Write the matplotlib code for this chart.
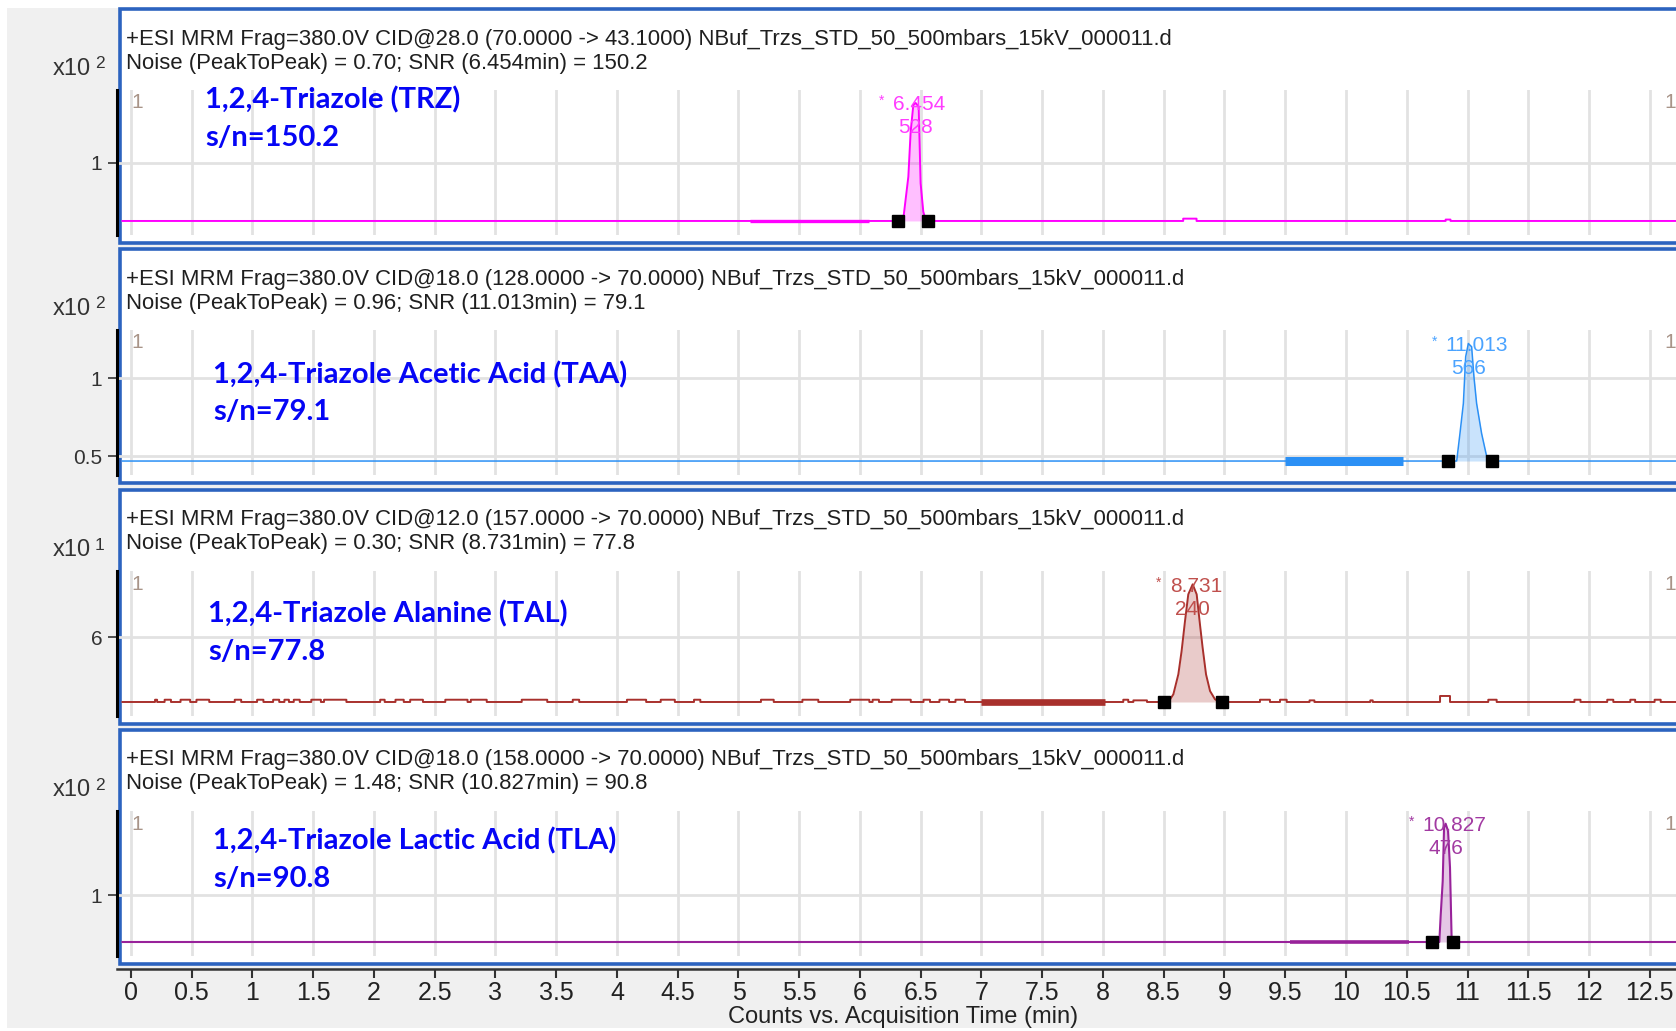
import numpy as np
import matplotlib.pyplot as plt
from matplotlib.patches import Rectangle

W, H = 1676, 1031

# ---- данные ----
x_ticks = [0, 0.5, 1, 1.5, 2, 2.5, 3, 3.5, 4, 4.5, 5, 5.5, 6, 6.5,
           7, 7.5, 8, 8.5, 9, 9.5, 10, 10.5, 11, 11.5, 12, 12.5]
x_ticklabels = ["0", "0.5", "1", "1.5", "2", "2.5", "3", "3.5", "4", "4.5", "5",
                "5.5", "6", "6.5", "7", "7.5", "8", "8.5", "9", "9.5", "10",
                "10.5", "11", "11.5", "12", "12.5"]

headers = [
    "+ESI MRM Frag=380.0V CID@28.0 (70.0000 -> 43.1000) NBuf_Trzs_STD_50_500mbars_15kV_000011.d",
    "+ESI MRM Frag=380.0V CID@18.0 (128.0000 -> 70.0000) NBuf_Trzs_STD_50_500mbars_15kV_000011.d",
    "+ESI MRM Frag=380.0V CID@12.0 (157.0000 -> 70.0000) NBuf_Trzs_STD_50_500mbars_15kV_000011.d",
    "+ESI MRM Frag=380.0V CID@18.0 (158.0000 -> 70.0000) NBuf_Trzs_STD_50_500mbars_15kV_000011.d",
]
noise_lines = [
    "Noise (PeakToPeak) = 0.70; SNR (6.454min) = 150.2",
    "Noise (PeakToPeak) = 0.96; SNR (11.013min) = 79.1",
    "Noise (PeakToPeak) = 0.30; SNR (8.731min) = 77.8",
    "Noise (PeakToPeak) = 1.48; SNR (10.827min) = 90.8",
]
names = ["1,2,4-Triazole (TRZ)", "1,2,4-Triazole Acetic Acid (TAA)",
         "1,2,4-Triazole Alanine (TAL)", "1,2,4-Triazole Lactic Acid (TLA)"]
sn_labels = ["s/n=150.2", "s/n=79.1", "s/n=77.8", "s/n=90.8"]
rt_labels = ["6.454", "11.013", "8.731", "10.827"]
area_labels = ["528", "566", "240", "476"]
exponents = ["2", "2", "1", "2"]

# TRZ
trz_base = 0.5
trz_peak_t = [6.355, 6.362, 6.398, 6.417, 6.439, 6.458, 6.483, 6.499, 6.521, 6.543]
trz_peak_v = [0.5, 0.566, 0.882, 1.27, 1.50, 1.517, 1.486, 0.825, 0.58, 0.5]
trz_limits = [6.310, 6.557]
trz_noise = [5.095, 6.077]
trz_bumps = [(8.66, 8.77, 0.02), (10.82, 10.86, 0.012)]
trz_yticks, trz_yticklabels = [1], ["1"]
trz_ylim = (0.379, 1.629)

# TAA
taa_base = 0.471
taa_peak_t = [10.911, 10.938, 10.966, 10.985, 11.007, 11.034, 11.053, 11.075, 11.116, 11.158, 11.18]
taa_peak_v = [0.471, 0.647, 0.838, 1.136, 1.220, 1.199, 1.008, 0.838, 0.647, 0.499, 0.471]
taa_limits = [10.837, 11.199]
taa_noise = [9.498, 10.47]
taa_bumps = []
taa_yticks, taa_yticklabels = [0.5, 1], ["0.5", "1"]
taa_ylim = (0.382, 1.306)

# TAL
tal_base = 4.0
tal_peak_t = [8.538, 8.579, 8.620, 8.647, 8.675, 8.702, 8.738, 8.771, 8.798, 8.820, 8.848, 8.881, 8.922, 8.963]
tal_peak_v = [4.0, 4.236, 4.851, 5.569, 6.492, 7.313, 7.621, 7.313, 6.390, 5.672, 4.851, 4.338, 4.082, 4.0]
tal_limits = [8.502, 8.977]
tal_noise = [7.0, 8.02]
tal_bumps = [(0.198, 0.215, 0.07), (0.277, 0.329, 0.07), (0.408, 0.487, 0.07), (0.539, 0.644, 0.07),
             (0.854, 0.907, 0.07), (1.038, 1.09, 0.07), (1.17, 1.22, 0.07), (1.263, 1.30, 0.07),
             (1.34, 1.389, 0.07), (1.484, 1.563, 0.07), (1.589, 1.773, 0.07), (2.051, 2.088, 0.07),
             (2.177, 2.245, 0.07), (2.298, 2.403, 0.07), (2.587, 2.77, 0.07), (2.797, 2.928, 0.07),
             (3.216, 3.426, 0.07), (3.636, 3.689, 0.07), (4.082, 4.24, 0.07), (4.36, 4.476, 0.07),
             (4.634, 4.686, 0.07), (5.185, 5.29, 0.07), (5.526, 5.657, 0.07), (5.92, 6.077, 0.07),
             (6.104, 6.156, 0.07), (6.261, 6.418, 0.07), (6.523, 6.576, 0.07), (6.654, 6.733, 0.07),
             (6.786, 6.864, 0.07), (8.167, 8.208, 0.07), (8.25, 8.362, 0.05), (9.292, 9.374, 0.07),
             (9.457, 9.512, 0.07), (9.70, 9.74, 0.05), (10.20, 10.22, 0.05), (10.774, 10.856, 0.185),
             (11.171, 11.24, 0.07), (11.88, 11.93, 0.07), (12.15, 12.2, 0.07), (12.34, 12.38, 0.07),
             (12.54, 12.59, 0.07)]
tal_yticks, tal_yticklabels = [6], ["6"]
tal_ylim = (3.569, 8.031)

# TLA
tla_base = 0.5
tla_peak_t = [10.768, 10.779, 10.796, 10.807, 10.820, 10.840, 10.856, 10.870]
tla_peak_v = [0.5, 0.777, 1.149, 1.716, 1.759, 1.681, 1.291, 0.5]
tla_limits = [10.705, 10.883]
tla_noise = [9.54, 10.52]
tla_bumps = []
tla_yticks, tla_yticklabels = [1], ["1"]
tla_ylim = (0.351, 1.894)

panels = [
    (trz_base, trz_peak_t, trz_peak_v, trz_limits, trz_noise, trz_bumps, trz_yticks, trz_yticklabels, trz_ylim),
    (taa_base, taa_peak_t, taa_peak_v, taa_limits, taa_noise, taa_bumps, taa_yticks, taa_yticklabels, taa_ylim),
    (tal_base, tal_peak_t, tal_peak_v, tal_limits, tal_noise, tal_bumps, tal_yticks, tal_yticklabels, tal_ylim),
    (tla_base, tla_peak_t, tla_peak_v, tla_limits, tla_noise, tla_bumps, tla_yticks, tla_yticklabels, tla_ylim),
]

# ---- стиль ----
line_colors = ["#ff00ff", "#2b90f5", "#a8302c", "#98229a"]
label_colors = ["#ff3cff", "#4aa3ff", "#c0504d", "#a23aa2"]
trace_lw = [1.4, 1.1, 1.4, 1.5]
noise_lw = [2.4, 6.5, 4.8, 2.6]
box_tops = [9, 249, 490, 730]
name_pos = [(205, 100), (213, 375), (208, 614), (213, 841)]
sn_pos = [(205, 138.5), (213, 412), (208, 652.5), (213, 879)]

SANS = ["Liberation Sans", "DejaVu Sans"]
NARROW = ["Liberation Sans Narrow", "Liberation Sans", "DejaVu Sans"]
BLUE = "#0505f5"

fig = plt.figure(figsize=(W / 100, H / 100), dpi=100)
fig.patch.set_facecolor("white")

bg = fig.add_axes([0, 0, 1, 1])
bg.set_xlim(0, W)
bg.set_ylim(H, 0)
bg.axis("off")
bg.add_patch(Rectangle((7, 8), W, 1020, fc="#f0f0f0", ec="none"))

# верхний слой для синих подписей (поверх сетки)
top = fig.add_axes([0, 0, 1, 1], zorder=10)
top.set_xlim(0, W)
top.set_ylim(H, 0)
top.axis("off")


def build_trace(base, peak_t, peak_v, bumps):
    pts = [(-0.07, base), (12.8, base)]
    for a, b, h in bumps:
        pts += [(a, base), (a, base + h), (b, base + h), (b, base)]
    pts += list(zip(peak_t, peak_v))
    pts.sort(key=lambda p: p[0])
    return [p[0] for p in pts], [p[1] for p in pts]


for i, T in enumerate(box_tops):
    base, pk_t, pk_v, lims, noise, bumps, yt, ytl, ylim = panels[i]
    col = line_colors[i]

    # рамка панели
    bg.add_patch(Rectangle((120, T), 1700, 234, fc="white", ec="#2c63bf", lw=2.6))
    bg.text(126, T + 30, headers[i], fontsize=15.9, va="center", ha="left",
            color="#1f1f1f", family=SANS)
    bg.text(126, T + 54, noise_lines[i], fontsize=15.9, va="center", ha="left",
            color="#1f1f1f", family=SANS)
    bg.text(91, T + 60, "x10", fontsize=17, va="center", ha="right", color="#333333", family=SANS)
    bg.text(95, T + 55, exponents[i], fontsize=12.5, va="center", ha="left", color="#333333", family=SANS)
    bg.text(131, T + 94, "1", fontsize=15, va="center", ha="left", color="#a89488", family=SANS)
    bg.text(1664, T + 94, "1", fontsize=15, va="center", ha="left", color="#a89488", family=SANS)

    ax = fig.add_axes([117 / W, 1 - (T + 226) / H, (W - 117) / W, 145 / H], facecolor="none")
    ax.set_xlim(-0.115, 12.716)
    ax.set_ylim(*ylim)
    ax.set_xticks(x_ticks)
    ax.set_yticks(yt)
    ax.set_yticklabels(ytl, family=SANS)
    ax.grid(True, color="#e2e2e2", lw=2)
    ax.set_axisbelow(True)
    for s in ["top", "right", "bottom"]:
        ax.spines[s].set_visible(False)
    ax.spines["left"].set_color("black")
    ax.spines["left"].set_linewidth(2.2)
    ax.tick_params(axis="y", length=6.5, width=1.2, color="#333333", labelsize=15,
                   pad=4, labelcolor="#333333")

    if i < 3:
        ax.tick_params(axis="x", length=0, labelbottom=False)
    else:
        ax.spines["bottom"].set_visible(True)
        ax.spines["bottom"].set_position(("outward", 9.4))
        ax.spines["bottom"].set_color("#333333")
        ax.spines["bottom"].set_linewidth(1.8)
        ax.set_xticklabels(x_ticklabels, family=NARROW)
        ax.tick_params(axis="x", length=6.5, width=1.5, direction="out", labelsize=18,
                       pad=2, color="#333333", labelcolor="#222222")

    tx, ty = build_trace(base, pk_t, pk_v, bumps)
    ax.plot(tx, ty, color=col, lw=trace_lw[i], zorder=3)
    ax.fill_between(pk_t, base, pk_v, color=col, alpha=0.25, lw=0, zorder=2)
    ax.plot(noise, [base, base], color=col, lw=noise_lw[i], solid_capstyle="butt", zorder=3)
    ax.plot(lims, [base, base], "s", color="black", ms=8, zorder=5)

    # подписи пика
    k = int(np.argmax(pk_v))
    apex = (pk_t[k], pk_v[k])
    ax.annotate(rt_labels[i], apex, xytext=(-23, -2), textcoords="offset pixels",
                ha="left", va="center", fontsize=15, color=label_colors[i], family=SANS)
    ax.annotate(area_labels[i], apex, xytext=(0, -25), textcoords="offset pixels",
                ha="center", va="center", fontsize=15, color=label_colors[i], family=SANS)
    ax.annotate("*", apex, xytext=(-34, 2), textcoords="offset pixels",
                ha="center", va="center", fontsize=10, color=label_colors[i], family=SANS)

    top.text(*name_pos[i], names[i], fontsize=21, fontweight="bold", color=BLUE,
             va="center", ha="left", family=["Lato", "DejaVu Sans"])
    top.text(*sn_pos[i], sn_labels[i], fontsize=21, fontweight="bold", color=BLUE,
             va="center", ha="left", family=["Lato", "DejaVu Sans"])

bg.text(903, 1017, "Counts vs. Acquisition Time (min)", fontsize=17, ha="center",
        va="center", color="#222222", family=NARROW)

fig.savefig("out.png", dpi=100)
